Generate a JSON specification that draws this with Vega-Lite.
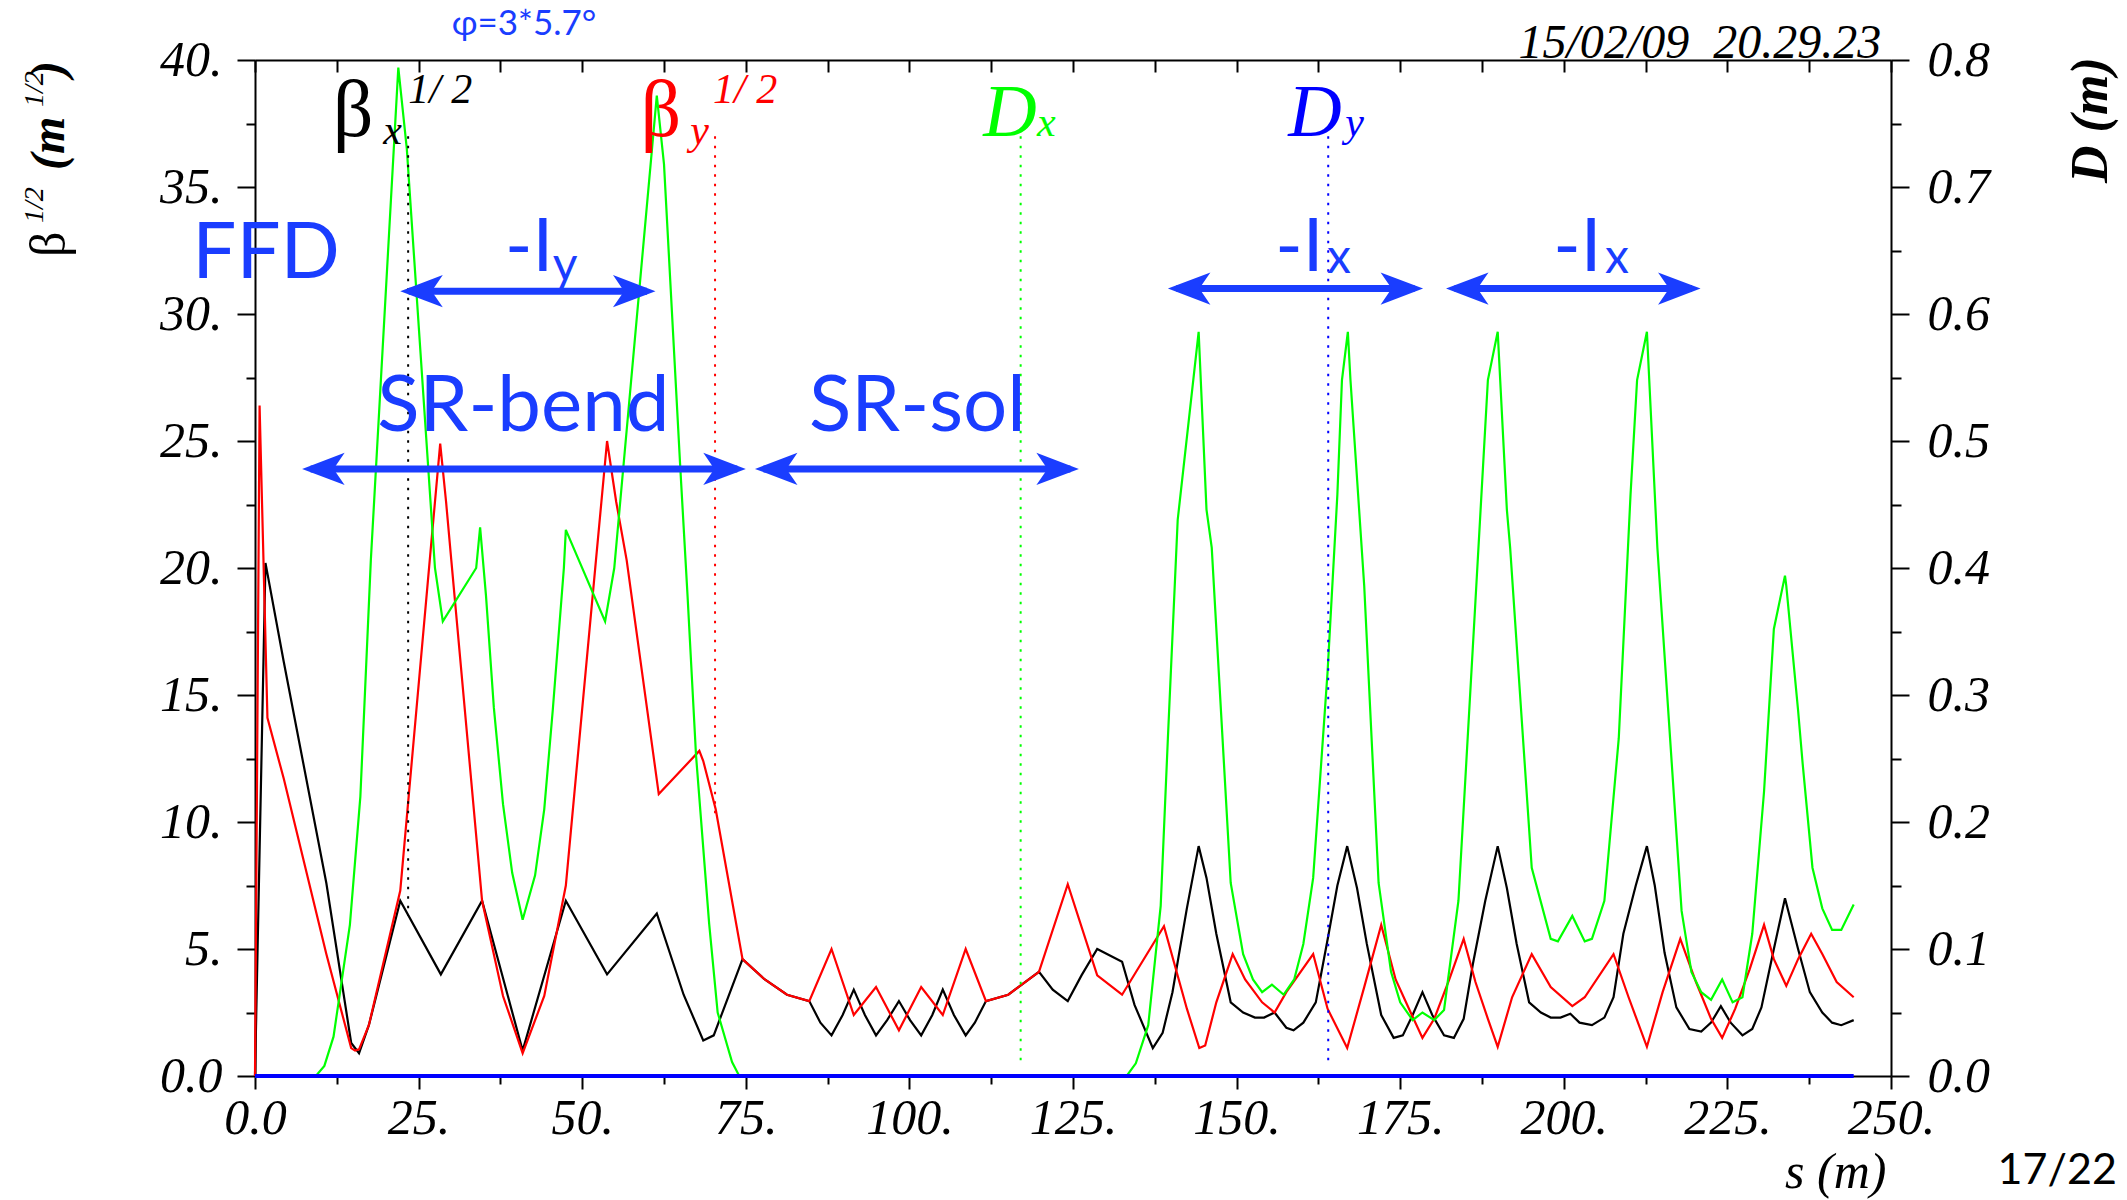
{
  "$schema": "https://vega.github.io/schema/vega-lite/v6.json",
  "width": 1636,
  "height": 1016,
  "autosize": {"type": "none"},
  "padding": {"left": 255, "top": 60, "right": 236, "bottom": 124},
  "background": "white",
  "config": {
    "view": {"stroke": null},
    "axis": {
      "labelFont": "Liberation Serif",
      "labelFontStyle": "italic",
      "labelFontSize": 50,
      "labelColor": "#000000",
      "domainColor": "#000000",
      "tickColor": "#000000",
      "domainWidth": 2,
      "tickWidth": 2,
      "grid": false,
      "labelFlush": false,
      "labelOverlap": false,
      "title": null
    }
  },
  "datasets": {
    "optics": [
      {"c":"bx","s":0,"v":0},{"c":"bx","s":1.6,"v":20.2},{"c":"bx","s":4.4,"v":16.3},{"c":"bx","s":10.9,"v":7.6},{"c":"bx","s":14.7,"v":1.3},{"c":"bx","s":15.9,"v":0.9},{"c":"bx","s":17.4,"v":2.0},{"c":"bx","s":22.2,"v":6.9},{"c":"bx","s":28.4,"v":4.0},{"c":"bx","s":34.7,"v":6.9},{"c":"bx","s":40.9,"v":1.0},{"c":"bx","s":47.5,"v":6.9},{"c":"bx","s":53.8,"v":4.0},{"c":"bx","s":61.4,"v":6.4},{"c":"bx","s":65.5,"v":3.2},{"c":"bx","s":68.5,"v":1.4},{"c":"bx","s":70.1,"v":1.6},{"c":"bx","s":74.5,"v":4.6},{"c":"bx","s":77.9,"v":3.8},{"c":"bx","s":81.3,"v":3.2},{"c":"bx","s":84.7,"v":2.95},{"c":"bx","s":86.4,"v":2.1},{"c":"bx","s":88.1,"v":1.6},{"c":"bx","s":89.8,"v":2.4},{"c":"bx","s":91.5,"v":3.4},{"c":"bx","s":93.2,"v":2.4},{"c":"bx","s":94.9,"v":1.6},{"c":"bx","s":96.6,"v":2.2},{"c":"bx","s":98.4,"v":2.95},{"c":"bx","s":100.1,"v":2.2},{"c":"bx","s":101.8,"v":1.6},{"c":"bx","s":103.5,"v":2.4},{"c":"bx","s":105.1,"v":3.4},{"c":"bx","s":106.8,"v":2.4},{"c":"bx","s":108.6,"v":1.6},{"c":"bx","s":110.0,"v":2.1},{"c":"bx","s":111.7,"v":2.95},{"c":"bx","s":115.1,"v":3.2},{"c":"bx","s":119.8,"v":4.1},{"c":"bx","s":121.9,"v":3.4},{"c":"bx","s":124.2,"v":2.95},{"c":"bx","s":126.3,"v":3.96},{"c":"bx","s":128.7,"v":5.0},{"c":"bx","s":132.5,"v":4.5},{"c":"bx","s":134.4,"v":2.8},{"c":"bx","s":137.2,"v":1.1},{"c":"bx","s":138.7,"v":1.7},{"c":"bx","s":140.2,"v":3.3},{"c":"bx","s":142.4,"v":6.6},{"c":"bx","s":144.2,"v":9.05},{"c":"bx","s":145.4,"v":7.8},{"c":"bx","s":146.9,"v":5.6},{"c":"bx","s":149.1,"v":2.9},{"c":"bx","s":151.0,"v":2.5},{"c":"bx","s":152.8,"v":2.3},{"c":"bx","s":154.2,"v":2.3},{"c":"bx","s":155.8,"v":2.5},{"c":"bx","s":157.6,"v":1.9},{"c":"bx","s":158.7,"v":1.8},{"c":"bx","s":160.2,"v":2.1},{"c":"bx","s":162.1,"v":2.9},{"c":"bx","s":164.0,"v":5.5},{"c":"bx","s":165.4,"v":7.5},{"c":"bx","s":166.9,"v":9.05},{"c":"bx","s":168.4,"v":7.4},{"c":"bx","s":169.9,"v":5.2},{"c":"bx","s":172.1,"v":2.4},{"c":"bx","s":174.0,"v":1.5},{"c":"bx","s":175.4,"v":1.6},{"c":"bx","s":176.9,"v":2.4},{"c":"bx","s":178.4,"v":3.3},{"c":"bx","s":179.9,"v":2.4},{"c":"bx","s":181.7,"v":1.6},{"c":"bx","s":183.2,"v":1.5},{"c":"bx","s":184.7,"v":2.25},{"c":"bx","s":186.1,"v":4.4},{"c":"bx","s":188.0,"v":6.9},{"c":"bx","s":189.9,"v":9.05},{"c":"bx","s":191.3,"v":7.4},{"c":"bx","s":192.8,"v":5.2},{"c":"bx","s":194.7,"v":2.9},{"c":"bx","s":196.5,"v":2.5},{"c":"bx","s":198.0,"v":2.3},{"c":"bx","s":199.5,"v":2.3},{"c":"bx","s":201.0,"v":2.45},{"c":"bx","s":202.4,"v":2.1},{"c":"bx","s":204.3,"v":2.0},{"c":"bx","s":206.2,"v":2.3},{"c":"bx","s":207.6,"v":3.1},{"c":"bx","s":209.1,"v":5.6},{"c":"bx","s":211.0,"v":7.5},{"c":"bx","s":212.7,"v":9.05},{"c":"bx","s":213.9,"v":7.5},{"c":"bx","s":215.4,"v":4.85},{"c":"bx","s":217.2,"v":2.7},{"c":"bx","s":219.2,"v":1.85},{"c":"bx","s":221.0,"v":1.75},{"c":"bx","s":222.5,"v":2.1},{"c":"bx","s":224.0,"v":2.75},{"c":"bx","s":225.5,"v":2.1},{"c":"bx","s":227.3,"v":1.6},{"c":"bx","s":228.8,"v":1.85},{"c":"bx","s":230.2,"v":2.7},{"c":"bx","s":232.1,"v":5.0},{"c":"bx","s":233.8,"v":7.0},{"c":"bx","s":235.8,"v":5.0},{"c":"bx","s":237.6,"v":3.3},{"c":"bx","s":239.5,"v":2.5},{"c":"bx","s":241.0,"v":2.1},{"c":"bx","s":242.4,"v":2.0},{"c":"bx","s":244.3,"v":2.2},
      {"c":"by","s":0,"v":0},{"c":"by","s":0.7,"v":26.4},{"c":"by","s":1.9,"v":14.1},{"c":"by","s":4.4,"v":11.7},{"c":"by","s":10.9,"v":4.8},{"c":"by","s":14.7,"v":1.1},{"c":"by","s":15.3,"v":1.0},{"c":"by","s":15.9,"v":1.05},{"c":"by","s":17.4,"v":2.0},{"c":"by","s":22.2,"v":7.3},{"c":"by","s":26.7,"v":20.3},{"c":"by","s":28.3,"v":24.9},{"c":"by","s":29.2,"v":22.6},{"c":"by","s":30.0,"v":20.3},{"c":"by","s":34.7,"v":6.9},{"c":"by","s":37.9,"v":3.15},{"c":"by","s":40.9,"v":0.9},{"c":"by","s":44.2,"v":3.15},{"c":"by","s":47.5,"v":7.5},{"c":"by","s":52.1,"v":20.3},{"c":"by","s":53.8,"v":25.0},{"c":"by","s":55.2,"v":22.6},{"c":"by","s":56.8,"v":20.3},{"c":"by","s":61.7,"v":11.1},{"c":"by","s":67.9,"v":12.8},{"c":"by","s":68.5,"v":12.4},{"c":"by","s":70.4,"v":10.5},{"c":"by","s":74.5,"v":4.6},{"c":"by","s":77.9,"v":3.8},{"c":"by","s":81.3,"v":3.2},{"c":"by","s":84.7,"v":2.95},{"c":"by","s":88.1,"v":5.0},{"c":"by","s":91.5,"v":2.4},{"c":"by","s":94.9,"v":3.5},{"c":"by","s":98.4,"v":1.8},{"c":"by","s":101.8,"v":3.5},{"c":"by","s":105.1,"v":2.4},{"c":"by","s":108.6,"v":5.0},{"c":"by","s":111.7,"v":2.95},{"c":"by","s":115.1,"v":3.2},{"c":"by","s":119.8,"v":4.1},{"c":"by","s":124.2,"v":7.55},{"c":"by","s":128.7,"v":3.96},{"c":"by","s":132.5,"v":3.2},{"c":"by","s":138.9,"v":5.9},{"c":"by","s":142.4,"v":2.65},{"c":"by","s":144.3,"v":1.1},{"c":"by","s":145.2,"v":1.2},{"c":"by","s":146.9,"v":2.9},{"c":"by","s":149.4,"v":4.8},{"c":"by","s":151.3,"v":3.8},{"c":"by","s":153.9,"v":2.9},{"c":"by","s":155.8,"v":2.5},{"c":"by","s":157.6,"v":3.3},{"c":"by","s":161.7,"v":4.8},{"c":"by","s":163.9,"v":2.65},{"c":"by","s":166.9,"v":1.1},{"c":"by","s":169.5,"v":3.5},{"c":"by","s":172.1,"v":5.95},{"c":"by","s":174.3,"v":3.8},{"c":"by","s":176.6,"v":2.5},{"c":"by","s":178.4,"v":1.5},{"c":"by","s":180.2,"v":2.25},{"c":"by","s":182.5,"v":3.8},{"c":"by","s":184.7,"v":5.4},{"c":"by","s":186.5,"v":3.7},{"c":"by","s":188.4,"v":2.25},{"c":"by","s":189.9,"v":1.15},{"c":"by","s":192.1,"v":3.1},{"c":"by","s":195.1,"v":4.8},{"c":"by","s":198.0,"v":3.5},{"c":"by","s":201.3,"v":2.75},{"c":"by","s":203.2,"v":3.1},{"c":"by","s":207.6,"v":4.8},{"c":"by","s":209.9,"v":3.1},{"c":"by","s":212.7,"v":1.15},{"c":"by","s":215.1,"v":3.3},{"c":"by","s":217.8,"v":5.4},{"c":"by","s":220.2,"v":3.7},{"c":"by","s":222.5,"v":2.25},{"c":"by","s":224.2,"v":1.5},{"c":"by","s":226.2,"v":2.65},{"c":"by","s":228.4,"v":4.2},{"c":"by","s":230.6,"v":5.95},{"c":"by","s":232.1,"v":4.6},{"c":"by","s":234.0,"v":3.55},{"c":"by","s":235.8,"v":4.6},{"c":"by","s":237.8,"v":5.6},{"c":"by","s":239.5,"v":4.8},{"c":"by","s":241.7,"v":3.7},{"c":"by","s":244.3,"v":3.1},
      {"c":"dx","s":0,"v":0},{"c":"dx","s":9.3,"v":0},{"c":"dx","s":10.6,"v":0.008},{"c":"dx","s":12.0,"v":0.031},{"c":"dx","s":14.5,"v":0.119},{"c":"dx","s":16.1,"v":0.22},{"c":"dx","s":17.7,"v":0.406},{"c":"dx","s":21.9,"v":0.794},{"c":"dx","s":23.2,"v":0.73},{"c":"dx","s":27.5,"v":0.40},{"c":"dx","s":28.7,"v":0.358},{"c":"dx","s":33.8,"v":0.40},{"c":"dx","s":34.4,"v":0.432},{"c":"dx","s":35.3,"v":0.378},{"c":"dx","s":36.5,"v":0.29},{"c":"dx","s":37.9,"v":0.214},{"c":"dx","s":39.3,"v":0.16},{"c":"dx","s":40.9,"v":0.123},{"c":"dx","s":42.8,"v":0.158},{"c":"dx","s":44.2,"v":0.21},{"c":"dx","s":45.5,"v":0.288},{"c":"dx","s":47.2,"v":0.40},{"c":"dx","s":47.5,"v":0.43},{"c":"dx","s":53.5,"v":0.358},{"c":"dx","s":54.9,"v":0.40},{"c":"dx","s":61.4,"v":0.772},{"c":"dx","s":62.5,"v":0.718},{"c":"dx","s":65.0,"v":0.478},{"c":"dx","s":66.1,"v":0.378},{"c":"dx","s":67.4,"v":0.252},{"c":"dx","s":69.4,"v":0.12},{"c":"dx","s":70.7,"v":0.05},{"c":"dx","s":72.9,"v":0.011},{"c":"dx","s":74.0,"v":0},{"c":"dx","s":133.2,"v":0},{"c":"dx","s":134.6,"v":0.01},{"c":"dx","s":136.5,"v":0.04},{"c":"dx","s":138.4,"v":0.134},{"c":"dx","s":139.5,"v":0.266},{"c":"dx","s":141.0,"v":0.438},{"c":"dx","s":144.2,"v":0.586},{"c":"dx","s":145.4,"v":0.446},{"c":"dx","s":146.2,"v":0.416},{"c":"dx","s":149.1,"v":0.152},{"c":"dx","s":151.0,"v":0.096},{"c":"dx","s":152.5,"v":0.076},{"c":"dx","s":153.9,"v":0.066},{"c":"dx","s":155.4,"v":0.072},{"c":"dx","s":157.2,"v":0.064},{"c":"dx","s":158.8,"v":0.076},{"c":"dx","s":160.2,"v":0.104},{"c":"dx","s":161.7,"v":0.156},{"c":"dx","s":163.9,"v":0.318},{"c":"dx","s":165.4,"v":0.458},{"c":"dx","s":166.1,"v":0.548},{"c":"dx","s":167.0,"v":0.586},{"c":"dx","s":167.4,"v":0.548},{"c":"dx","s":169.5,"v":0.386},{"c":"dx","s":171.7,"v":0.152},{"c":"dx","s":173.6,"v":0.082},{"c":"dx","s":175.0,"v":0.058},{"c":"dx","s":176.9,"v":0.044},{"c":"dx","s":178.4,"v":0.05},{"c":"dx","s":180.2,"v":0.044},{"c":"dx","s":181.7,"v":0.052},{"c":"dx","s":183.9,"v":0.138},{"c":"dx","s":186.5,"v":0.374},{"c":"dx","s":188.4,"v":0.548},{"c":"dx","s":189.9,"v":0.586},{"c":"dx","s":191.3,"v":0.446},{"c":"dx","s":191.8,"v":0.416},{"c":"dx","s":195.1,"v":0.164},{"c":"dx","s":198.0,"v":0.108},{"c":"dx","s":199.1,"v":0.106},{"c":"dx","s":201.3,"v":0.126},{"c":"dx","s":203.2,"v":0.106},{"c":"dx","s":204.3,"v":0.108},{"c":"dx","s":206.2,"v":0.138},{"c":"dx","s":208.4,"v":0.266},{"c":"dx","s":210.2,"v":0.458},{"c":"dx","s":211.2,"v":0.548},{"c":"dx","s":212.7,"v":0.586},{"c":"dx","s":214.3,"v":0.416},{"c":"dx","s":218.0,"v":0.13},{"c":"dx","s":219.5,"v":0.082},{"c":"dx","s":221.0,"v":0.066},{"c":"dx","s":222.5,"v":0.06},{"c":"dx","s":224.2,"v":0.076},{"c":"dx","s":225.8,"v":0.058},{"c":"dx","s":227.3,"v":0.062},{"c":"dx","s":228.8,"v":0.112},{"c":"dx","s":230.6,"v":0.224},{"c":"dx","s":232.1,"v":0.352},{"c":"dx","s":233.8,"v":0.394},{"c":"dx","s":234.0,"v":0.386},{"c":"dx","s":235.8,"v":0.288},{"c":"dx","s":236.5,"v":0.246},{"c":"dx","s":238.0,"v":0.164},{"c":"dx","s":239.5,"v":0.132},{"c":"dx","s":241.0,"v":0.115},{"c":"dx","s":242.4,"v":0.115},{"c":"dx","s":244.3,"v":0.135},
      {"c":"dy","s":0,"v":0},{"c":"dy","s":244.3,"v":0}
    ],
    "markers": [
      {"c":"bx","s":23.4,"v":37.0,"v2":6.3},
      {"c":"by","s":70.3,"v":37.0,"v2":10.3},
      {"c":"dx","s":117.0,"v":37.0,"v2":0.35},
      {"c":"dy","s":164.0,"v":37.0,"v2":0.35}
    ],
    "arrows": [
      {"s":23.5,"s2":59.9,"v":30.9},
      {"s":8.5,"s2":73.7,"v":23.9},
      {"s":77.7,"s2":124.6,"v":23.9},
      {"s":140.8,"s2":177.2,"v":31.0},
      {"s":183.3,"s2":219.6,"v":31.0}
    ],
    "notes": [
      {"k":"big","t":"FFD","s":1.7,"v":31.4},
      {"k":"big","t":"SR-bend","s":41.0,"v":25.4},
      {"k":"big","t":"SR-sol","s":101.2,"v":25.4},
      {"k":"minusI","t":"-I","s":38.2,"v":31.7},
      {"k":"minusI","t":"-I","s":155.9,"v":31.7},
      {"k":"minusI","t":"-I","s":198.4,"v":31.7},
      {"k":"sub","t":"y","s":45.5,"v":31.3},
      {"k":"sub","t":"x","s":163.8,"v":31.6},
      {"k":"sub","t":"x","s":206.3,"v":31.6},
      {"k":"phi","t":"φ=3*5.7°","s":41.1,"v":41.0},
      {"k":"beta","t":"β","s":15.0,"v":37.0,"c":"bx"},
      {"k":"beta","t":"β","s":62.0,"v":37.0,"c":"by"},
      {"k":"bsub","t":"x","s":19.6,"v":36.7,"c":"bx"},
      {"k":"bsub","t":"y","s":66.5,"v":36.7,"c":"by"},
      {"k":"bsup","t":"1/ 2","s":23.4,"v":38.3,"c":"bx"},
      {"k":"bsup","t":"1/ 2","s":70.0,"v":38.3,"c":"by"},
      {"k":"dlab","t":"D","s":111.3,"v":37.0,"c":"dx"},
      {"k":"dlab","t":"D","s":157.9,"v":37.0,"c":"dy"},
      {"k":"dsub","t":"x","s":119.5,"v":37.0,"c":"dx"},
      {"k":"dsub","t":"y","s":166.6,"v":37.0,"c":"dy"},
      {"k":"stamp","t":"15/02/09\u00a0\u00a020.29.23","s":248.5,"v":40.08},
      {"k":"page","t":"17/22","s":275.4,"v":-4.25},
      {"k":"xtitle","t":"s (m)","s":249.3,"v":-4.4},
      {"k":"ytb","t":"β","s":-29.0,"v":32.24},
      {"k":"ytsup","t":"1/2","s":-32.4,"v":33.58},
      {"k":"ytsup","t":"1/2","s":-32.4,"v":38.15},
      {"k":"ytbold","t":"(m","s":-29.2,"v":35.67},
      {"k":"ytbold","t":")","s":-29.2,"v":39.33},
      {"k":"ytbold2","t":"D (m)","s":283.0,"v":35.16}
    ]
  },
  "encoding": {
    "x": {"field": "s", "type": "quantitative", "scale": {"domain": [0, 250], "nice": false, "zero": false}, "axis": null},
    "y": {"field": "v", "type": "quantitative", "scale": {"domain": [0, 40], "nice": false, "zero": false}, "axis": null}
  },
  "resolve": {"scale": {"y": "independent"}, "axis": {"x": "independent", "y": "independent"}},
  "layer": [
    {
      "data": {"name": "optics"},
      "transform": [{"filter": "datum.c == 'bx' || datum.c == 'by'"}],
      "mark": {"type": "line", "strokeWidth": 2.2},
      "encoding": {
        "x": {"field": "s", "type": "quantitative", "scale": {"domain": [0, 250], "nice": false, "zero": false},
          "axis": {"orient": "bottom", "values": [0, 25, 50, 75, 100, 125, 150, 175, 200, 225, 250], "labelExpr": "datum.value == 0 ? '0.0' : datum.value + '.'", "tickSize": 13, "labelPadding": 4}},
        "y": {"field": "v", "type": "quantitative", "scale": {"domain": [0, 40], "nice": false, "zero": false},
          "axis": {"orient": "left", "values": [0, 5, 10, 15, 20, 25, 30, 35, 40], "labelExpr": "datum.value == 0 ? '0.0' : datum.value + '.'", "tickSize": 18, "labelPadding": 15}},
        "color": {"field": "c", "type": "nominal", "scale": {"domain": ["bx", "by", "dx", "dy"], "range": ["#000000", "#ff0000", "#00ff00", "#0000ff"]}, "legend": null}
      }
    },
    {
      "data": {"name": "optics"},
      "transform": [{"filter": "datum.c == 'dx'"}],
      "mark": {"type": "line", "strokeWidth": 2.2},
      "encoding": {
        "x": {"field": "s", "type": "quantitative", "scale": {"domain": [0, 250], "nice": false, "zero": false},
          "axis": {"orient": "top", "values": [0, 12.5, 25, 37.5, 50, 62.5, 75, 87.5, 100, 112.5, 125, 137.5, 150, 162.5, 175, 187.5, 200, 212.5, 225, 237.5, 250], "labels": false, "tickSize": -12}},
        "y": {"field": "v", "type": "quantitative", "scale": {"domain": [0, 0.8], "nice": false, "zero": false},
          "axis": {"orient": "right", "values": [0, 0.1, 0.2, 0.3, 0.4, 0.5, 0.6, 0.7, 0.8], "format": ".1f", "tickSize": 18, "labelPadding": 18}},
        "color": {"field": "c", "type": "nominal", "scale": {"domain": ["bx", "by", "dx", "dy"], "range": ["#000000", "#ff0000", "#00ff00", "#0000ff"]}, "legend": null}
      }
    },
    {
      "data": {"name": "optics"},
      "transform": [{"filter": "datum.c == 'dy'"}],
      "mark": {"type": "line", "strokeWidth": 4},
      "encoding": {
        "x": {"field": "s", "type": "quantitative", "scale": {"domain": [0, 250], "nice": false, "zero": false},
          "axis": {"orient": "bottom", "values": [12.5, 37.5, 62.5, 87.5, 112.5, 137.5, 162.5, 187.5, 212.5, 237.5], "labels": false, "domain": false, "tickSize": 8}},
        "y": {"field": "v", "type": "quantitative", "scale": {"domain": [0, 0.8], "nice": false, "zero": false},
          "axis": {"orient": "right", "values": [0.05, 0.15, 0.25, 0.35, 0.45, 0.55, 0.65, 0.75], "labels": false, "domain": false, "tickSize": 10}},
        "color": {"field": "c", "type": "nominal", "scale": {"domain": ["bx", "by", "dx", "dy"], "range": ["#000000", "#ff0000", "#00ff00", "#0000ff"]}, "legend": null}
      }
    },
    {
      "data": {"name": "markers"},
      "mark": {"type": "rule", "strokeWidth": 2, "strokeDash": [2.5, 7]},
      "encoding": {
        "y": {"field": "v", "type": "quantitative", "scale": {"domain": [0, 40], "nice": false, "zero": false},
          "axis": {"orient": "left", "values": [2.5, 7.5, 12.5, 17.5, 22.5, 27.5, 32.5, 37.5], "labels": false, "domain": false, "tickSize": 9}},
        "y2": {"field": "v2"},
        "color": {"field": "c", "type": "nominal", "scale": {"domain": ["bx", "by", "dx", "dy"], "range": ["#000000", "#ff0000", "#00ff00", "#0000ff"]}, "legend": null}
      }
    },
    {
      "data": {"name": "arrows"},
      "mark": {"type": "rule", "strokeWidth": 7, "color": "#1a3dff", "strokeCap": "butt"},
      "encoding": {"x2": {"field": "s2"}}
    },
    {
      "data": {"name": "arrows"},
      "mark": {"type": "point", "shape": "M-0.5,0L2,-0.95L1.35,0L2,0.95Z", "size": 1156, "filled": true, "color": "#1a3dff", "opacity": 1, "strokeWidth": 0}
    },
    {
      "data": {"name": "arrows"},
      "mark": {"type": "point", "shape": "M0.5,0L-2,-0.95L-1.35,0L-2,0.95Z", "size": 1156, "filled": true, "color": "#1a3dff", "opacity": 1, "strokeWidth": 0},
      "encoding": {"x": {"field": "s2", "type": "quantitative", "scale": {"domain": [0, 250], "nice": false, "zero": false}, "axis": null}}
    },
    {
      "data": {"name": "notes"},
      "transform": [{"filter": "datum.k == 'big'"}],
      "mark": {"type": "text", "font": "Lato", "fontSize": 78, "color": "#1a3dff", "align": "center", "baseline": "alphabetic"},
      "encoding": {"text": {"field": "t"}}
    },
    {
      "data": {"name": "notes"},
      "transform": [{"filter": "datum.k == 'minusI'"}],
      "mark": {"type": "text", "font": "Lato", "fontSize": 74, "color": "#1a3dff", "align": "left", "baseline": "alphabetic"},
      "encoding": {"text": {"field": "t"}}
    },
    {
      "data": {"name": "notes"},
      "transform": [{"filter": "datum.k == 'sub'"}],
      "mark": {"type": "text", "font": "Lato", "fontSize": 48, "color": "#1a3dff", "align": "left", "baseline": "alphabetic"},
      "encoding": {"text": {"field": "t"}}
    },
    {
      "data": {"name": "notes"},
      "transform": [{"filter": "datum.k == 'phi'"}],
      "mark": {"type": "text", "font": "Lato", "fontSize": 35, "color": "#1a3dff", "align": "center", "baseline": "alphabetic"},
      "encoding": {"text": {"field": "t"}}
    },
    {
      "data": {"name": "notes"},
      "transform": [{"filter": "datum.k == 'beta'"}],
      "mark": {"type": "text", "font": "Liberation Serif", "fontSize": 80, "align": "center", "baseline": "alphabetic"},
      "encoding": {"text": {"field": "t"}, "color": {"field": "c", "type": "nominal", "scale": {"domain": ["bx", "by", "dx", "dy"], "range": ["#000000", "#ff0000", "#00ff00", "#0000ff"]}, "legend": null}}
    },
    {
      "data": {"name": "notes"},
      "transform": [{"filter": "datum.k == 'bsub'"}],
      "mark": {"type": "text", "font": "Liberation Serif", "fontStyle": "italic", "fontSize": 42, "align": "left", "baseline": "alphabetic"},
      "encoding": {"text": {"field": "t"}, "color": {"field": "c", "type": "nominal", "scale": {"domain": ["bx", "by", "dx", "dy"], "range": ["#000000", "#ff0000", "#00ff00", "#0000ff"]}, "legend": null}}
    },
    {
      "data": {"name": "notes"},
      "transform": [{"filter": "datum.k == 'bsup'"}],
      "mark": {"type": "text", "font": "Liberation Serif", "fontStyle": "italic", "fontSize": 42, "align": "left", "baseline": "alphabetic"},
      "encoding": {"text": {"field": "t"}, "color": {"field": "c", "type": "nominal", "scale": {"domain": ["bx", "by", "dx", "dy"], "range": ["#000000", "#ff0000", "#00ff00", "#0000ff"]}, "legend": null}}
    },
    {
      "data": {"name": "notes"},
      "transform": [{"filter": "datum.k == 'dlab'"}],
      "mark": {"type": "text", "font": "Liberation Serif", "fontStyle": "italic", "fontSize": 74, "align": "left", "baseline": "alphabetic"},
      "encoding": {"text": {"field": "t"}, "color": {"field": "c", "type": "nominal", "scale": {"domain": ["bx", "by", "dx", "dy"], "range": ["#000000", "#ff0000", "#00ff00", "#0000ff"]}, "legend": null}}
    },
    {
      "data": {"name": "notes"},
      "transform": [{"filter": "datum.k == 'dsub'"}],
      "mark": {"type": "text", "font": "Liberation Serif", "fontStyle": "italic", "fontSize": 42, "align": "left", "baseline": "alphabetic"},
      "encoding": {"text": {"field": "t"}, "color": {"field": "c", "type": "nominal", "scale": {"domain": ["bx", "by", "dx", "dy"], "range": ["#000000", "#ff0000", "#00ff00", "#0000ff"]}, "legend": null}}
    },
    {
      "data": {"name": "notes"},
      "transform": [{"filter": "datum.k == 'stamp'"}],
      "mark": {"type": "text", "font": "Liberation Serif", "fontStyle": "italic", "fontSize": 48, "color": "#000000", "align": "right", "baseline": "alphabetic"},
      "encoding": {"text": {"field": "t"}}
    },
    {
      "data": {"name": "notes"},
      "transform": [{"filter": "datum.k == 'page'"}],
      "mark": {"type": "text", "font": "Lato", "fontSize": 43, "color": "#000000", "align": "center", "baseline": "alphabetic"},
      "encoding": {"text": {"field": "t"}}
    },
    {
      "data": {"name": "notes"},
      "transform": [{"filter": "datum.k == 'xtitle'"}],
      "mark": {"type": "text", "font": "Liberation Serif", "fontStyle": "italic", "fontSize": 50, "color": "#000000", "align": "right", "baseline": "alphabetic"},
      "encoding": {"text": {"field": "t"}}
    },
    {
      "data": {"name": "notes"},
      "transform": [{"filter": "datum.k == 'ytb'"}],
      "mark": {"type": "text", "font": "Liberation Serif", "fontSize": 50, "color": "#000000", "align": "left", "baseline": "alphabetic", "angle": 270},
      "encoding": {"text": {"field": "t"}}
    },
    {
      "data": {"name": "notes"},
      "transform": [{"filter": "datum.k == 'ytsup'"}],
      "mark": {"type": "text", "font": "Liberation Serif", "fontStyle": "italic", "fontSize": 28, "color": "#000000", "align": "left", "baseline": "alphabetic", "angle": 270},
      "encoding": {"text": {"field": "t"}}
    },
    {
      "data": {"name": "notes"},
      "transform": [{"filter": "datum.k == 'ytbold'"}],
      "mark": {"type": "text", "font": "Liberation Serif", "fontStyle": "italic", "fontWeight": "bold", "fontSize": 48, "color": "#000000", "align": "left", "baseline": "alphabetic", "angle": 270},
      "encoding": {"text": {"field": "t"}}
    },
    {
      "data": {"name": "notes"},
      "transform": [{"filter": "datum.k == 'ytbold2'"}],
      "mark": {"type": "text", "font": "Liberation Serif", "fontStyle": "italic", "fontWeight": "bold", "fontSize": 52, "color": "#000000", "align": "left", "baseline": "alphabetic", "angle": 270},
      "encoding": {"text": {"field": "t"}}
    }
  ]
}
